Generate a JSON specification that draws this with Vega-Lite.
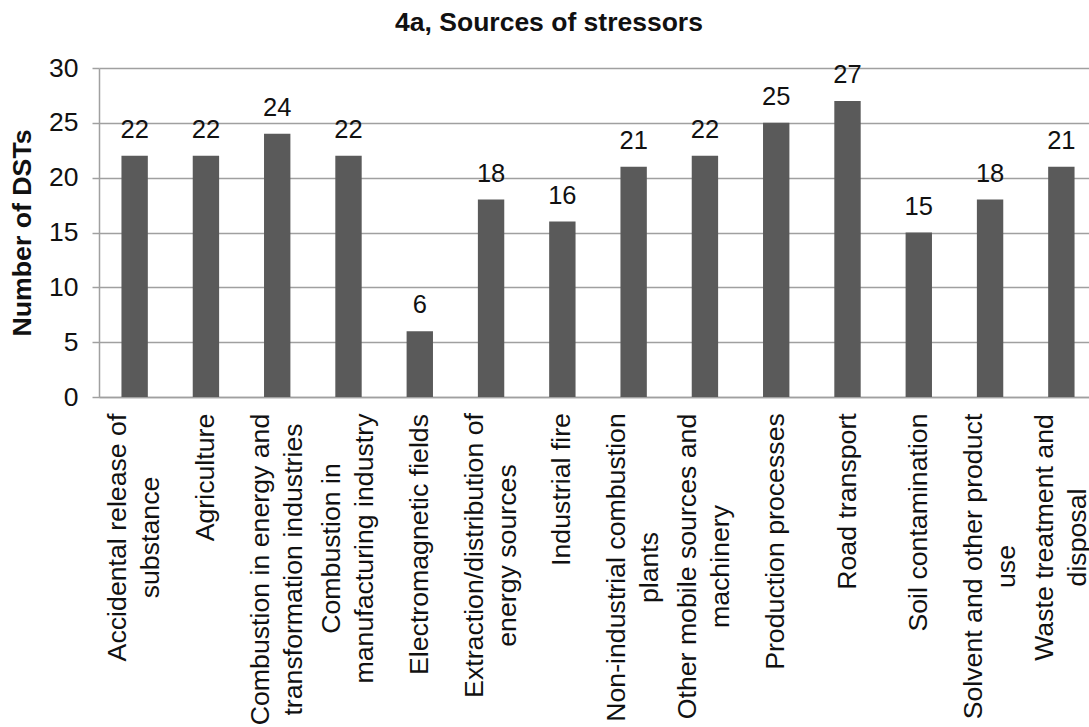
{
  "$schema": "https://vega.github.io/schema/vega-lite/v6.json",
  "autosize": {"type": "none"},
  "width": 990,
  "height": 329,
  "padding": {"left": 99, "top": 68, "right": 0, "bottom": 330},
  "background": "white",
  "title": {
    "text": "4a, Sources of stressors",
    "font": "Liberation Sans",
    "fontSize": 26.5,
    "fontWeight": "bold",
    "color": "#111111",
    "anchor": "middle",
    "dx": -45,
    "offset": 19
  },
  "config": {
    "view": {"stroke": null},
    "font": "Liberation Sans"
  },
  "data": {
    "values": [
      {"source": "Accidental release of|substance", "count": 22},
      {"source": "Agriculture", "count": 22},
      {"source": "Combustion in energy and|transformation industries", "count": 24},
      {"source": "Combustion in|manufacturing industry", "count": 22},
      {"source": "Electromagnetic fields", "count": 6},
      {"source": "Extraction/distribution of|energy sources", "count": 18},
      {"source": "Industrial fire", "count": 16},
      {"source": "Non-industrial combustion|plants", "count": 21},
      {"source": "Other mobile sources and|machinery", "count": 22},
      {"source": "Production processes", "count": 25},
      {"source": "Road transport", "count": 27},
      {"source": "Soil contamination", "count": 15},
      {"source": "Solvent and other product|use", "count": 18},
      {"source": "Waste treatment and|disposal", "count": 21}
    ]
  },
  "encoding": {
    "x": {
      "field": "source",
      "type": "nominal",
      "sort": null,
      "scale": {"paddingInner": 0.63, "paddingOuter": 0.315, "range": [0, 998]},
      "axis": {
        "title": null,
        "labelAngle": -90,
        "labelAlign": "center",
        "labelBaseline": "middle",
        "labelFontSize": 26.7,
        "labelColor": "#111111",
        "labelLineHeight": 33,
        "labelLimit": 0,
        "labelExpr": "split(datum.value, '|')",
        "labelOffset": {
          "condition": {"test": "indexof(datum.value, '|') >= 0", "value": -16.5},
          "value": 0
        },
        "labelPadding": {
          "condition": [
            {"test": "datum.value === 'Accidental release of|substance'", "value": 140},
            {"test": "datum.value === 'Agriculture'", "value": 80},
            {"test": "datum.value === 'Combustion in energy and|transformation industries'", "value": 172},
            {"test": "datum.value === 'Combustion in|manufacturing industry'", "value": 151},
            {"test": "datum.value === 'Electromagnetic fields'", "value": 147},
            {"test": "datum.value === 'Extraction/distribution of|energy sources'", "value": 158},
            {"test": "datum.value === 'Industrial fire'", "value": 92},
            {"test": "datum.value === 'Non-industrial combustion|plants'", "value": 170},
            {"test": "datum.value === 'Other mobile sources and|machinery'", "value": 169},
            {"test": "datum.value === 'Production processes'", "value": 144},
            {"test": "datum.value === 'Road transport'", "value": 104},
            {"test": "datum.value === 'Soil contamination'", "value": 125},
            {"test": "datum.value === 'Solvent and other product|use'", "value": 169},
            {"test": "datum.value === 'Waste treatment and|disposal'", "value": 140}
          ],
          "value": 16
        },
        "ticks": false,
        "domainColor": "#a0a0a0",
        "domainWidth": 1.5,
        "grid": false
      }
    },
    "y": {
      "field": "count",
      "type": "quantitative",
      "scale": {"domain": [0, 30], "nice": false},
      "axis": {
        "title": "Number of DSTs",
        "titleFontSize": 26.7,
        "titleFontWeight": "bold",
        "titleColor": "#111111",
        "titlePadding": 12,
        "values": [0, 5, 10, 15, 20, 25, 30],
        "labelFontSize": 26.5,
        "labelColor": "#111111",
        "labelPadding": 14,
        "tickSize": 7,
        "tickColor": "#a0a0a0",
        "tickWidth": 1.5,
        "domainColor": "#a0a0a0",
        "domainWidth": 1.5,
        "gridColor": "#a0a0a0",
        "gridWidth": 1.5
      }
    }
  },
  "layer": [
    {"mark": {"type": "bar", "color": "#5a5a5a"}},
    {
      "mark": {"type": "text", "baseline": "alphabetic", "dy": -18, "fontSize": 25.5, "color": "#111111"},
      "encoding": {"text": {"field": "count", "type": "quantitative"}}
    }
  ]
}
